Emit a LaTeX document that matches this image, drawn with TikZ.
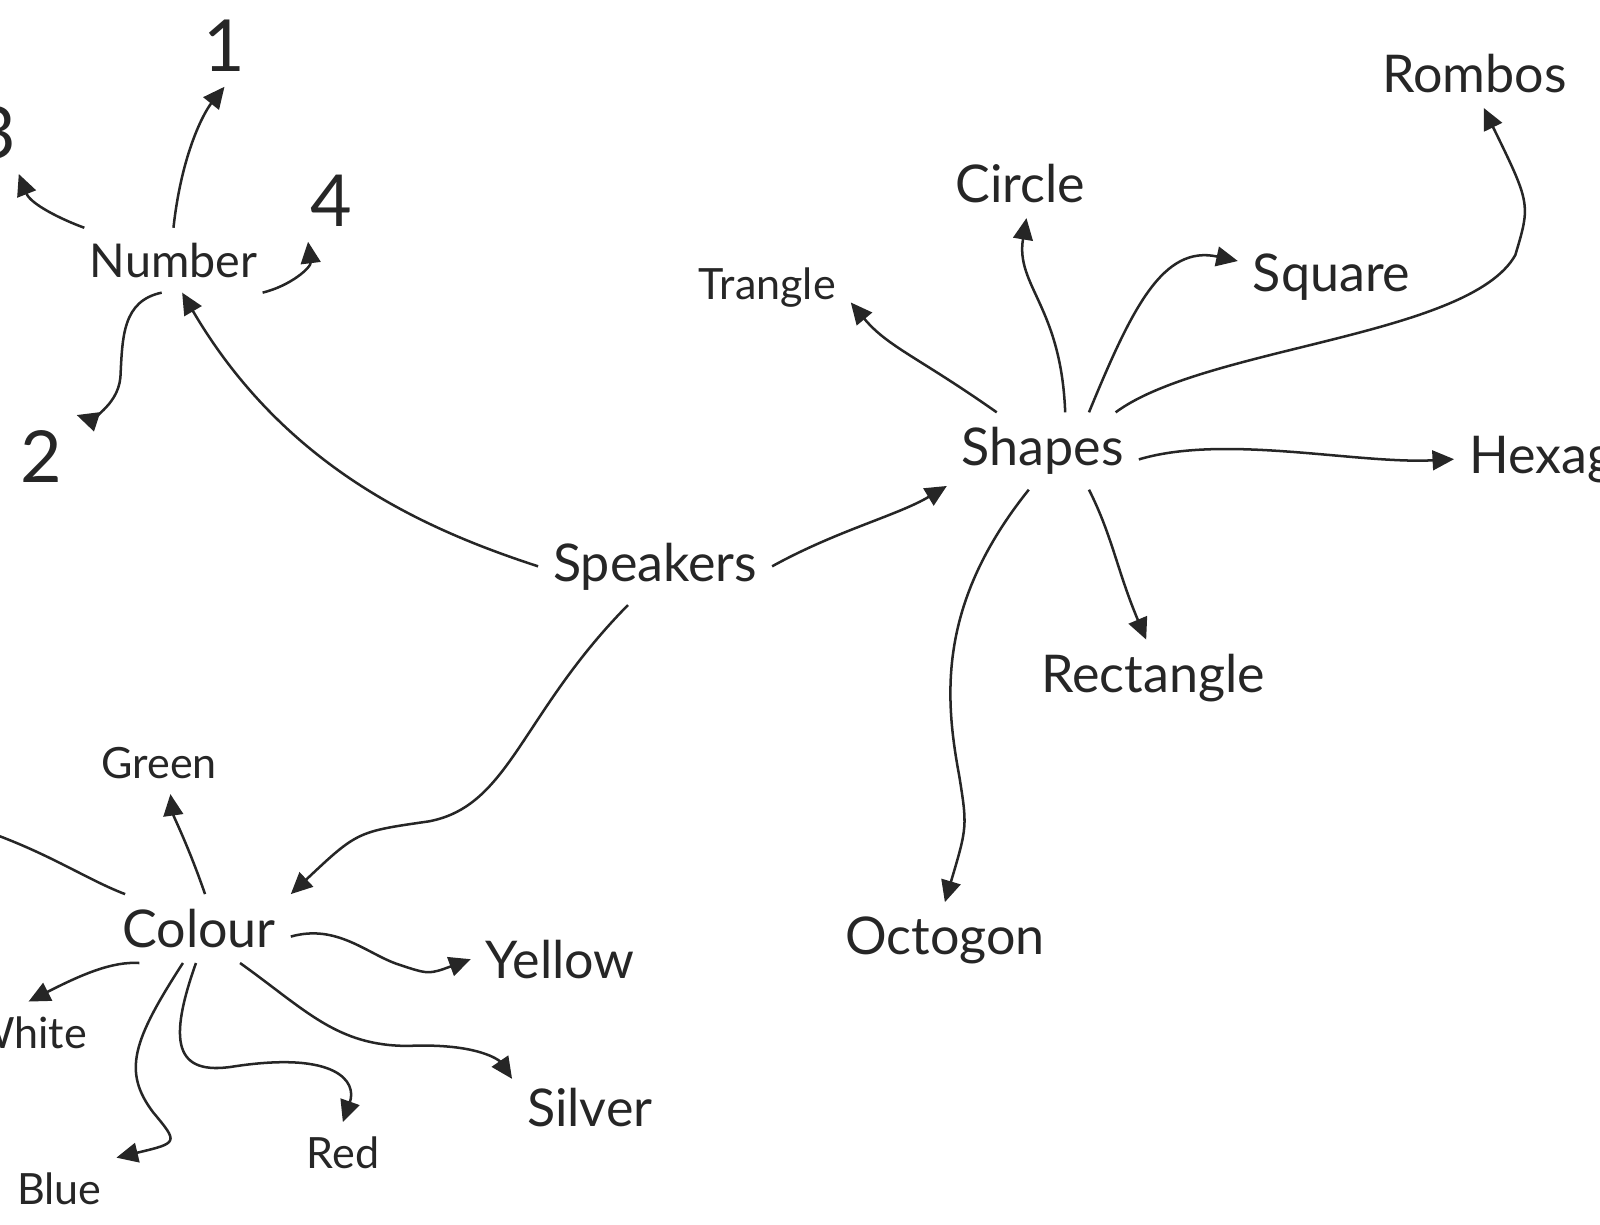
\documentclass[tikz,border=0pt]{standalone}
\usepackage{fontspec}
\setmainfont{Lato}
\usetikzlibrary{arrows.meta}

\begin{document}
\begin{tikzpicture}[x=0.01cm, y=-0.01cm,
  word/.style={font=\fontsize{14.5}{17}\selectfont, text=black!85, inner sep=4pt},
  small/.style={font=\fontsize{12}{14}\selectfont, text=black!85, inner sep=4pt},
  digit/.style={font=\fontsize{20}{24}\selectfont, text=black!85, inner sep=4pt},
  arrow/.style={-{Triangle[length=6pt, width=5.5pt]}, line width=0.7pt, black!85},
]
\useasboundingbox (0,0) rectangle (1568,1200);
\clip (0,0) rectangle (1568,1200);

% Number branch
\node[word, font=\fontsize{13}{16}\selectfont] (num) at (170,255) {Number};
\node[digit] (n1) at (220,45) {1};
\node[digit] (n3) at (-5,130) {3};
\node[digit] (n4) at (325,197) {4};
\node[digit] (n2) at (40,447) {2};

% centre
\node[word] (spk) at (642,555) {Speakers};

% Shapes branch
\node[word] (shp) at (1022,442) {Shapes};
\node[word] (circ) at (1000,180) {Circle};
\node[word] (romb) at (1445,72) {Rombos};
\node[word] (sq) at (1305,272) {Square};
\node[small] (tri) at (752,282) {Trangle};
\node[word, anchor=west] (hex) at (1425,450) {Hexagon};
\node[word] (rect) at (1130,665) {Rectangle};
\node[word] (oct) at (926,922) {Octogon};

% Colour branch
\node[word] (col) at (195,910) {Colour};
\node[small] (grn) at (156,748) {Green};
\node[word] (yel) at (549,940) {Yellow};
\node[small, anchor=east] (wht) at (100,1012) {White};
\node[small] (blu) at (58,1165) {Blue};
\node[small] (red) at (336,1130) {Red};
\node[word] (silv) at (578,1085) {Silver};
\coordinate (off) at (-60,800);

% Arrows
\draw[arrow] (num.north) .. controls (178,150) and (200,110) .. (n1.south);
\draw[arrow] (num.160) .. controls (60,215) and (30,200) .. (n3.-60);
\draw[arrow] (num.-20) .. controls (285,280) and (305,262) .. (n4.-120);
\draw[arrow] (num.-110) .. controls (120,295) and (120,330) .. (118,370)
  .. controls (115,400) and (85,410) .. (n2.north east);
\draw[arrow] (spk.west) .. controls (420,520) and (280,460) .. (num.-75);
\draw[arrow] (spk.east) .. controls (820,520) and (880,505) .. (shp.200);
\draw[arrow] (spk.-125) .. controls (510,700) and (500,790) .. (420,805)
  .. controls (350,815) .. (col.north east);

\draw[arrow] (shp.140) .. controls (900,350) and (870,340) .. (tri.-10);
\draw[arrow] (shp.60) .. controls (1040,300) and (995,280) .. (circ.-80);
\draw[arrow] (shp.40) .. controls (1110,300) and (1140,240) .. (sq.170);
\draw[arrow] (shp.28) .. controls (1180,340) and (1440,330) .. (1485,250)
  .. controls (1500,200) .. (romb.-75);
\draw[arrow] (shp.-5) .. controls (1200,425) and (1330,455) .. (hex.west);
\draw[arrow] (shp.-40) .. controls (1090,525) and (1095,560) .. (rect.100);
\draw[arrow] (shp.-110) .. controls (920,590) and (925,680) .. (940,760)
  .. controls (948,810) .. (oct.north);

\draw[arrow] (col.80) .. controls (185,830) and (170,800) .. (grn.-70);
\draw[arrow] (col.155) .. controls (80,860) and (40,830) .. (off);
\draw[arrow] (col.-5) .. controls (330,905) and (360,935) .. (390,945)
  .. controls (420,955) .. (yel.west);
\draw[arrow] (col.-150) .. controls (110,942) and (80,955) .. (wht.north);
\draw[arrow] (col.-115) .. controls (130,1020) and (120,1050) .. (150,1090)
  .. controls (175,1120) .. (blu.north east);
\draw[arrow] (col.-95) .. controls (165,1020) and (170,1055) .. (230,1045)
  .. controls (330,1030) and (350,1060) .. (red.north);
\draw[arrow] (col.-40) .. controls (300,990) and (330,1025) .. (400,1025)
  .. controls (470,1022) and (490,1040) .. (silv.160);
\end{tikzpicture}
\end{document}
